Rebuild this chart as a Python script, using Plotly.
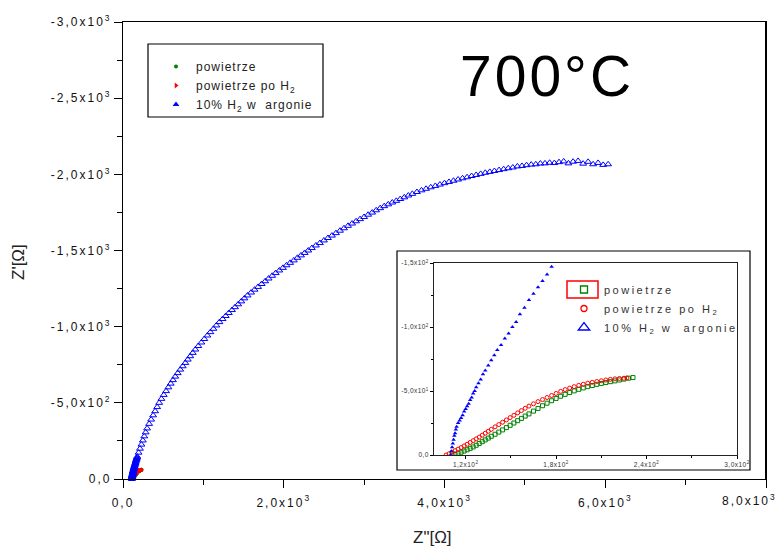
import plotly.graph_objects as go

# ---------------- data ----------------
blue_x = [110, 110.5, 111, 111.5, 112, 112.5, 113, 113.5, 114, 115, 116, 117, 118, 119, 120, 121, 122, 123,
          124, 125, 126, 127, 128.5, 130, 131.5, 133, 135, 137, 139, 141, 143.5, 146, 148.5, 151, 153.5, 156,
          159, 162, 165, 168, 171, 174, 177,
          194, 211, 229, 247, 265, 282, 300,
          325, 350, 375, 400, 425, 450,
          478, 507, 536, 565, 594, 622, 650,
          681, 712, 743, 775, 806, 837, 868, 900,
          937, 975, 1012, 1050, 1087, 1125, 1162, 1200,
          1239, 1278, 1317, 1356, 1394, 1433, 1472, 1511, 1550,
          1594, 1637, 1681, 1725, 1769, 1812, 1856, 1900,
          1945, 1990, 2035, 2080, 2125, 2170, 2215, 2260, 2305, 2350,
          2400, 2450, 2500, 2550, 2600, 2650, 2700, 2750, 2800,
          2850, 2900, 2950, 3000, 3050, 3100, 3150, 3200,
          3250, 3300, 3350, 3400, 3450, 3500, 3550, 3600,
          3657, 3714, 3771, 3829, 3886, 3943, 4000,
          4056, 4112, 4169, 4225, 4281, 4337, 4394, 4450,
          4507, 4564, 4621, 4679, 4736, 4793, 4850,
          4907, 4964, 5021, 5079, 5136, 5193, 5250,
          5308, 5367, 5425, 5483, 5542, 5600,
          5662, 5725, 5787, 5849, 5911, 5974, 6036]
blue_y = [0, -3, -6, -9, -12, -15, -17, -20, -22, -25, -27, -29, -31, -34, -36, -38, -40, -43,
          -45, -48, -50, -53, -56, -59, -63, -66, -70, -74, -78, -82, -86, -91, -95, -100, -104, -110,
          -115, -121, -126, -131, -136, -141, -147,
          -173, -199, -226, -253, -280, -306, -332,
          -362, -390, -418, -445, -472, -500,
          -526, -552, -577, -602, -626, -649, -672,
          -695, -718, -740, -762, -784, -806, -828, -850,
          -873, -896, -919, -942, -964, -986, -1008, -1030,
          -1050, -1070, -1090, -1109, -1128, -1147, -1166, -1186, -1205,
          -1224, -1243, -1261, -1280, -1298, -1316, -1334, -1352,
          -1369, -1386, -1403, -1419, -1435, -1452, -1468, -1484, -1500, -1516,
          -1533, -1549, -1566, -1582, -1598, -1614, -1630, -1646, -1662,
          -1677, -1692, -1706, -1720, -1735, -1749, -1764, -1778,
          -1791, -1803, -1815, -1826, -1838, -1849, -1861, -1872,
          -1884, -1895, -1905, -1915, -1924, -1933, -1942,
          -1950, -1958, -1966, -1974, -1981, -1989, -1996, -2003,
          -2010, -2016, -2022, -2028, -2034, -2040, -2045,
          -2052, -2055, -2060, -2064, -2066, -2071, -2072,
          -2076, -2074, -2080, -2085, -2072, -2083,
          -2088, -2070, -2082, -2066, -2075, -2062, -2066]

red_x = [107, 109, 111, 113, 115, 117, 119, 121, 123, 125, 127, 129, 131, 133, 135, 137, 139.5, 142, 144.5,
         147, 149.5, 152, 154.5, 157, 159.5, 162, 165, 168, 171, 174, 177, 180, 183, 186, 189, 192, 195,
         198, 201, 204, 207, 210, 213, 216, 219, 222, 225, 227]
red_y = [0, -1, -2.2, -3.4, -4.6, -5.8, -7.1, -8.4, -9.8, -11.2, -12.6, -14, -15.5, -17, -18.5, -20, -22,
         -23.8, -25.6, -27.4, -29.2, -31, -32.9, -34.7, -36.5, -38.2, -40, -41.7, -43.3, -44.9, -46.5,
         -48.1, -49.7, -51.1, -52.3, -53.4, -54.4, -55.3, -56.1, -56.8, -57.4, -58, -58.6, -59.1, -59.5,
         -59.8, -60, -60.2]

green_x = [111, 113, 115, 117, 119, 121, 123, 125, 127, 129, 131, 133, 135, 137, 139.5, 142, 144.5, 147,
           149.5, 152, 154.5, 157, 159.5, 162, 165, 168, 171, 174, 177, 180, 183, 186, 189, 192, 195, 198,
           201, 204, 207, 210, 213, 216, 219, 222, 225, 228, 231]
green_y = [0, -0.7, -1.4, -2.2, -3.1, -4.1, -5.2, -6.3, -7.6, -9, -10.4, -11.8, -13.2, -14.6, -16.2, -17.9,
           -19.6, -21.4, -23.2, -25, -26.8, -28.6, -30.4, -32.1, -34.3, -36.4, -38.5, -40.5, -42.4, -44.2,
           -45.9, -47.4, -48.8, -50.1, -51.3, -52.4, -53.4, -54.3, -55.2, -55.9, -56.6, -57.3, -57.9,
           -58.6, -59.3, -60, -60.5]

series_names = ["powietrze", "powietrze po H<sub>2</sub>", "10% H<sub>2</sub> w\u00a0 argonie"]

x_main_ticks = [0, 2000, 4000, 6000, 8000]
x_main_text = ["0,0", "2,0x10<sup>3</sup>", "4,0x10<sup>3</sup>", "6,0x10<sup>3</sup>", "8,0x10<sup>3</sup>"]
y_main_ticks = [0, -500, -1000, -1500, -2000, -2500, -3000]
y_main_text = ["0,0", "-5,0x10<sup>2</sup>", "-1,0x10<sup>3</sup>", "-1,5x10<sup>3</sup>",
               "-2,0x10<sup>3</sup>", "-2,5x10<sup>3</sup>", "-3,0x10<sup>3</sup>"]
x_in_ticks = [120, 180, 240, 300]
x_in_text = ["1,2x10<sup>2</sup>", "1,8x10<sup>2</sup>", "2,4x10<sup>2</sup>", "3,0x10<sup>2</sup>"]
y_in_ticks = [0, -50, -100, -150]
y_in_text = ["0,0", "-5,0x10<sup>1</sup>", "-1,0x10<sup>2</sup>", "-1,5x10<sup>2</sup>"]

# ---------------- layout helpers ----------------
W, H = 780, 547
L, R, T, B = 123, 766, 22, 479


def px(x):
    return (x - L) / (R - L)


def py(y):
    return (B - y) / (B - T)


def spaced(s, sp):
    return s if sp == 0 else f'<span style="letter-spacing:{sp}px">{s}</span>'


GREEN, RED, BLUE = "#008000", "#ff0000", "#0000ff"
FONT = "Liberation Sans, Arial, sans-serif"

fig = go.Figure()

# main plot traces
fig.add_trace(go.Scatter(x=green_x, y=green_y, mode="markers", showlegend=False, cliponaxis=False,
                         marker=dict(symbol="circle", size=4, color=GREEN)))
fig.add_trace(go.Scatter(x=red_x, y=red_y, mode="markers", showlegend=False, cliponaxis=False,
                         marker=dict(symbol="circle", size=4, color=RED)))
fig.add_trace(go.Scatter(x=blue_x, y=blue_y, mode="markers", showlegend=False, cliponaxis=False,
                         marker=dict(symbol="triangle-up-open", size=6, color=BLUE, line=dict(width=1))))

# inset traces (same data, zoomed)
fig.add_trace(go.Scatter(x=green_x, y=green_y, mode="markers", showlegend=False, xaxis="x2", yaxis="y2",
                         marker=dict(symbol="square-open", size=4, color=GREEN, line=dict(width=1))))
fig.add_trace(go.Scatter(x=red_x, y=red_y, mode="markers", showlegend=False, xaxis="x2", yaxis="y2",
                         marker=dict(symbol="circle-open", size=4, color=RED, line=dict(width=1))))
fig.add_trace(go.Scatter(x=blue_x, y=blue_y, mode="markers", showlegend=False, xaxis="x2", yaxis="y2",
                         marker=dict(symbol="triangle-up", size=4, color=BLUE)))

# legend entries (no data)
main_leg = [("circle", 4, GREEN), ("triangle-right", 5, RED), ("triangle-up", 6, BLUE)]
for name, (sym, sz, col) in zip(series_names, main_leg):
    fig.add_trace(go.Scatter(x=[None], y=[None], mode="markers", name=spaced(name, 1), legend="legend",
                             marker=dict(symbol=sym, size=sz, color=col)))
in_leg = [("square-open", 7, GREEN), ("circle-open", 6, RED), ("triangle-up-open", 10, BLUE)]
for name, (sym, sz, col) in zip(series_names, in_leg):
    fig.add_trace(go.Scatter(x=[None], y=[None], mode="markers", name=spaced(name, 2.5), legend="legend2",
                             marker=dict(symbol=sym, size=sz, color=col, line=dict(width=1.3))))

axis_common = dict(showgrid=False, zeroline=False, showline=True, linecolor="black", linewidth=1.2,
                   mirror=True, ticks="outside", tickcolor="black", tickwidth=1.2, ticklen=8,
                   automargin=False, tickfont=dict(family=FONT, size=12, color="#111"))
inset_common = dict(showgrid=False, zeroline=False, showline=True, linecolor="#222", linewidth=1,
                    mirror=True, ticks="outside", ticklen=3, tickcolor="black", automargin=False,
                    tickfont=dict(family=FONT, size=6.5, color="#333"))

# last x label sits at the figure edge: drawn as an annotation so it is not dropped
x_axis_text = [spaced(t, 2) for t in x_main_text]
last_x_label = x_axis_text[-1]
x_axis_text[-1] = ""

fig.update_layout(
    width=W, height=H,
    margin=dict(l=L, r=W - R, t=T, b=H - B, autoexpand=False),
    paper_bgcolor="white", plot_bgcolor="white",
    xaxis=dict(range=[0, 8000], tickmode="array", tickvals=x_main_ticks, ticktext=x_axis_text,
               ticklabelstandoff=4,
               minor=dict(tickvals=[1000, 3000, 5000, 7000], ticks="outside", ticklen=5,
                          tickcolor="black", tickwidth=1.2),
               **axis_common),
    yaxis=dict(range=[0, -3000], tickmode="array", tickvals=y_main_ticks,
               ticktext=[spaced(t, 2) for t in y_main_text],
               minor=dict(tickvals=[-250, -750, -1250, -1750, -2250, -2750], ticks="outside", ticklen=5,
                          tickcolor="black", tickwidth=1.2),
               **axis_common),
    xaxis2=dict(domain=[px(434), px(737)], anchor="y2", range=[99, 300], tickmode="array",
                tickvals=x_in_ticks, ticktext=[spaced(t, 0.5) for t in x_in_text],
                minor=dict(tickvals=[150, 210, 270], ticks="outside", ticklen=2, tickcolor="black"),
                **inset_common),
    yaxis2=dict(domain=[py(455), py(263)], anchor="x2", range=[0, -150], tickmode="array",
                tickvals=y_in_ticks, ticktext=[spaced(t, 0.4) for t in y_in_text],
                minor=dict(tickvals=[-25, -75, -125], ticks="outside", ticklen=2, tickcolor="black"),
                **inset_common),
    legend=dict(x=px(156), y=py(52), xanchor="left", yanchor="top", bgcolor="rgba(0,0,0,0)",
                borderwidth=0, font=dict(family=FONT, size=12, color="#222"), tracegroupgap=0),
    legend2=dict(x=px(564), y=py(275), xanchor="left", yanchor="top", bgcolor="rgba(0,0,0,0)",
                 borderwidth=0, font=dict(family=FONT, size=11, color="#333"), tracegroupgap=0),
    shapes=[
        dict(type="rect", xref="paper", yref="paper", x0=px(397), x1=px(750), y0=py(470), y1=py(251),
             line=dict(color="black", width=1.2), fillcolor="white", layer="below"),
        dict(type="rect", xref="paper", yref="paper", x0=px(148), x1=px(323), y0=py(117), y1=py(44),
             line=dict(color="black", width=1.2), fillcolor="rgba(0,0,0,0)", layer="below"),
        dict(type="rect", xref="paper", yref="paper", x0=px(566), x1=px(718), y0=py(356), y1=py(272),
             line=dict(color="black", width=1.2), fillcolor="rgba(0,0,0,0)", layer="below"),
        dict(type="rect", xref="paper", yref="paper", x0=px(567), x1=px(598), y0=py(298), y1=py(281),
             line=dict(color=RED, width=1.5), fillcolor="rgba(0,0,0,0)", layer="above"),
        dict(type="line", xref="paper", yref="paper", x0=1, x1=1, y0=0, y1=1,
             line=dict(color="black", width=2), layer="above"),
    ],
    annotations=[
        dict(text="Z'[Ω]", xref="paper", yref="paper", x=px(18), y=py(262), showarrow=False,
             xanchor="center", yanchor="middle",
             textangle=-90, font=dict(family=FONT, size=17, color="#222")),
        dict(text='Z"[Ω]', xref="paper", yref="paper", x=px(432), y=py(537), showarrow=False,
             xanchor="center", yanchor="middle",
             font=dict(family=FONT, size=17, color="#222")),
        dict(text=spaced("700°C", 3), xref="paper", yref="paper", x=px(547), y=py(76), showarrow=False,
             xanchor="center", yanchor="middle",
             font=dict(family=FONT, size=57, color="black")),
        dict(text=last_x_label, xref="paper", yref="paper", x=px(779), y=py(500), showarrow=False,
             xanchor="right", yanchor="middle",
             font=dict(family=FONT, size=12, color="#111")),
    ],
)

fig.write_html("out.html")
